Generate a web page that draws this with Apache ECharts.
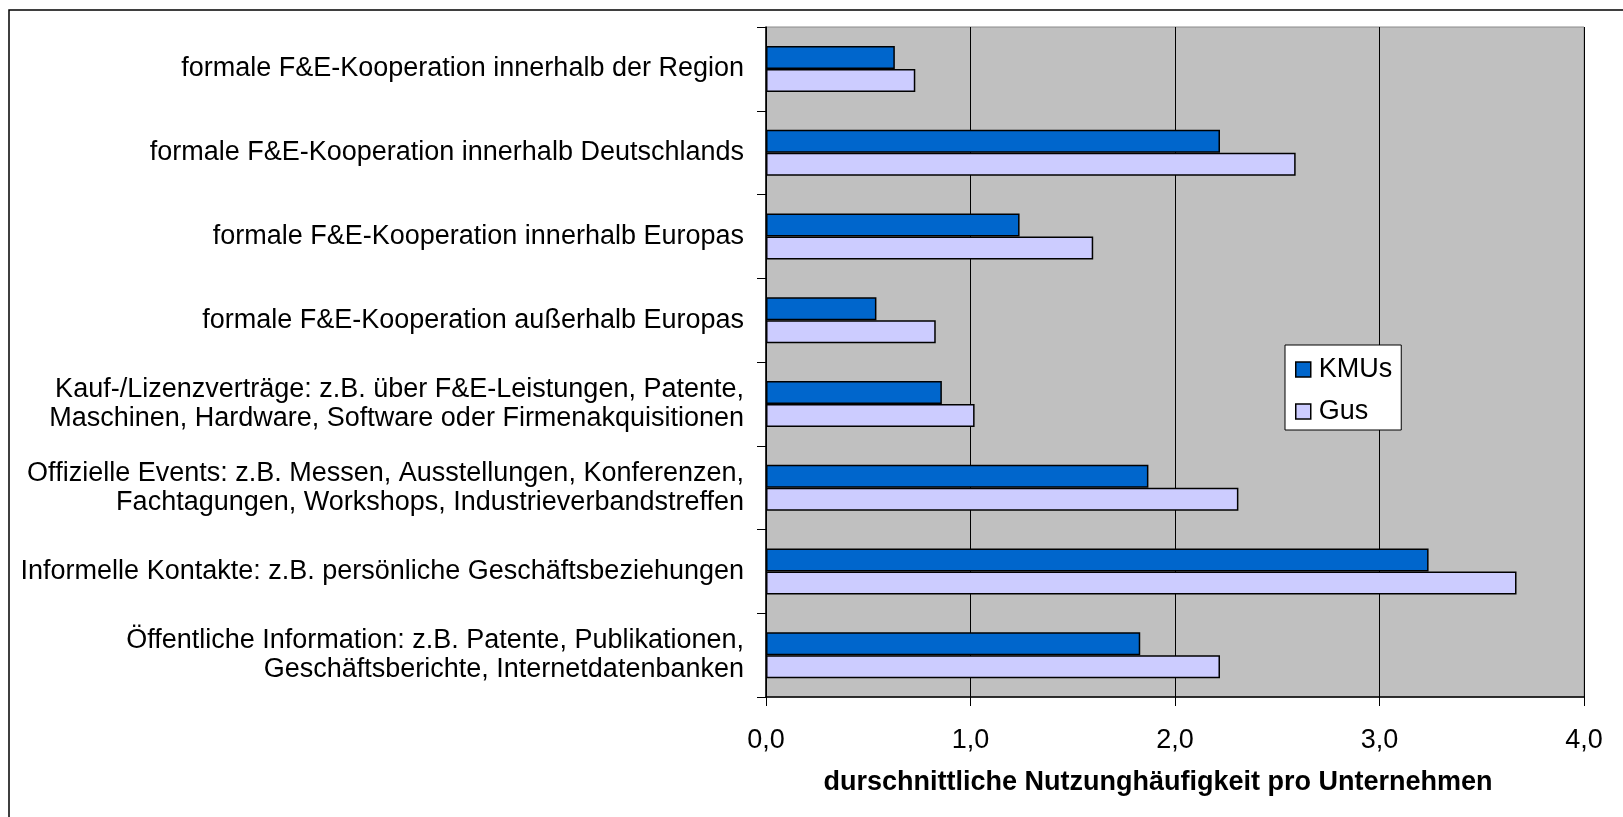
<!DOCTYPE html>
<html>
<head>
<meta charset="utf-8">
<script src="https://cdn.jsdelivr.net/npm/echarts@6/dist/echarts.min.js"></script>
<style>
  html, body { margin: 0; padding: 0; background: #fff; }
  #chart { width: 1623px; height: 817px; }
</style>
</head>
<body>
<div id="chart"></div>
<script>
// categories top to bottom
const categories = [
  "formale F&E-Kooperation innerhalb der Region",
  "formale F&E-Kooperation innerhalb Deutschlands",
  "formale F&E-Kooperation innerhalb Europas",
  "formale F&E-Kooperation außerhalb Europas",
  "Kauf-/Lizenzverträge: z.B. über F&E-Leistungen, Patente,\nMaschinen, Hardware, Software oder Firmenakquisitionen",
  "Offizielle Events: z.B. Messen, Ausstellungen, Konferenzen,\nFachtagungen, Workshops, Industrieverbandstreffen",
  "Informelle Kontakte: z.B. persönliche Geschäftsbeziehungen",
  "Öffentliche Information: z.B. Patente, Publikationen,\nGeschäftsberichte, Internetdatenbanken"
];
const kmus = [0.63, 2.22, 1.24, 0.54, 0.86, 1.87, 3.24, 1.83];
const gus = [0.73, 2.59, 1.60, 0.83, 1.02, 2.31, 3.67, 2.22];
const xTicks = [0, 1, 2, 3, 4];

const FONT = "'Liberation Sans', Arial, sans-serif";
const chart = echarts.init(document.getElementById("chart"));

chart.setOption({
  animation: false,
  textStyle: { fontFamily: FONT, color: "#000" },
  graphic: [{
    type: "rect",
    shape: { x: 9, y: 10, width: 1700, height: 900 },
    style: { fill: "none", stroke: "#000", lineWidth: 1.5 },
    z: -10
  }],
  grid: {
    left: 766, right: 39, top: 27, bottom: 120,
    show: true, backgroundColor: "#c0c0c0",
    borderColor: "#8a8a8a", borderWidth: 1
  },
  legend: {
    orient: "vertical",
    left: 1285, top: 345,
    padding: [11, 9, 5, 10],
    itemWidth: 15, itemHeight: 15, itemGap: 15,
    backgroundColor: "#fff", borderColor: "#000", borderWidth: 1,
    icon: "rect",
    itemStyle: { borderColor: "#000", borderWidth: 1.5 },
    textStyle: { fontSize: 27, lineHeight: 26, color: "#000", fontFamily: FONT, padding: [0, 0, 0, 3] },
    data: ["KMUs", "Gus"]
  },
  xAxis: {
    type: "value",
    min: xTicks[0], max: xTicks[xTicks.length - 1], interval: 1,
    axisLine: { show: true, lineStyle: { color: "#000", width: 1.5 } },
    axisTick: { show: true, length: 9, lineStyle: { color: "#000" } },
    splitLine: { show: true, lineStyle: { color: "#000", width: 1 } },
    axisLabel: {
      fontSize: 27, color: "#000", fontFamily: FONT, margin: 30,
      formatter: v => v.toFixed(1).replace(".", ",")
    },
    name: "durschnittliche Nutzunghäufigkeit pro Unternehmen",
    nameLocation: "middle",
    nameGap: 72,
    nameTextStyle: { fontSize: 27, fontWeight: "bold", color: "#000", fontFamily: FONT, padding: [0, 34, 0, 0] }
  },
  yAxis: {
    type: "category",
    inverse: true,
    data: categories,
    axisLine: { show: true, lineStyle: { color: "#000", width: 1.5 } },
    axisTick: { show: true, length: 9, lineStyle: { color: "#000" } },
    axisLabel: { fontSize: 27, lineHeight: 29, color: "#000", fontFamily: FONT, margin: 22, align: "right" }
  },
  series: [
    {
      name: "KMUs", type: "bar", data: kmus,
      barWidth: 23, barGap: "0%",
      itemStyle: { color: "#0066cc", borderColor: "#000", borderWidth: 1.5 }
    },
    {
      name: "Gus", type: "bar", data: gus,
      barWidth: 23, barGap: "0%",
      itemStyle: { color: "#ccccff", borderColor: "#000", borderWidth: 1.5 }
    }
  ]
});
</script>
</body>
</html>
